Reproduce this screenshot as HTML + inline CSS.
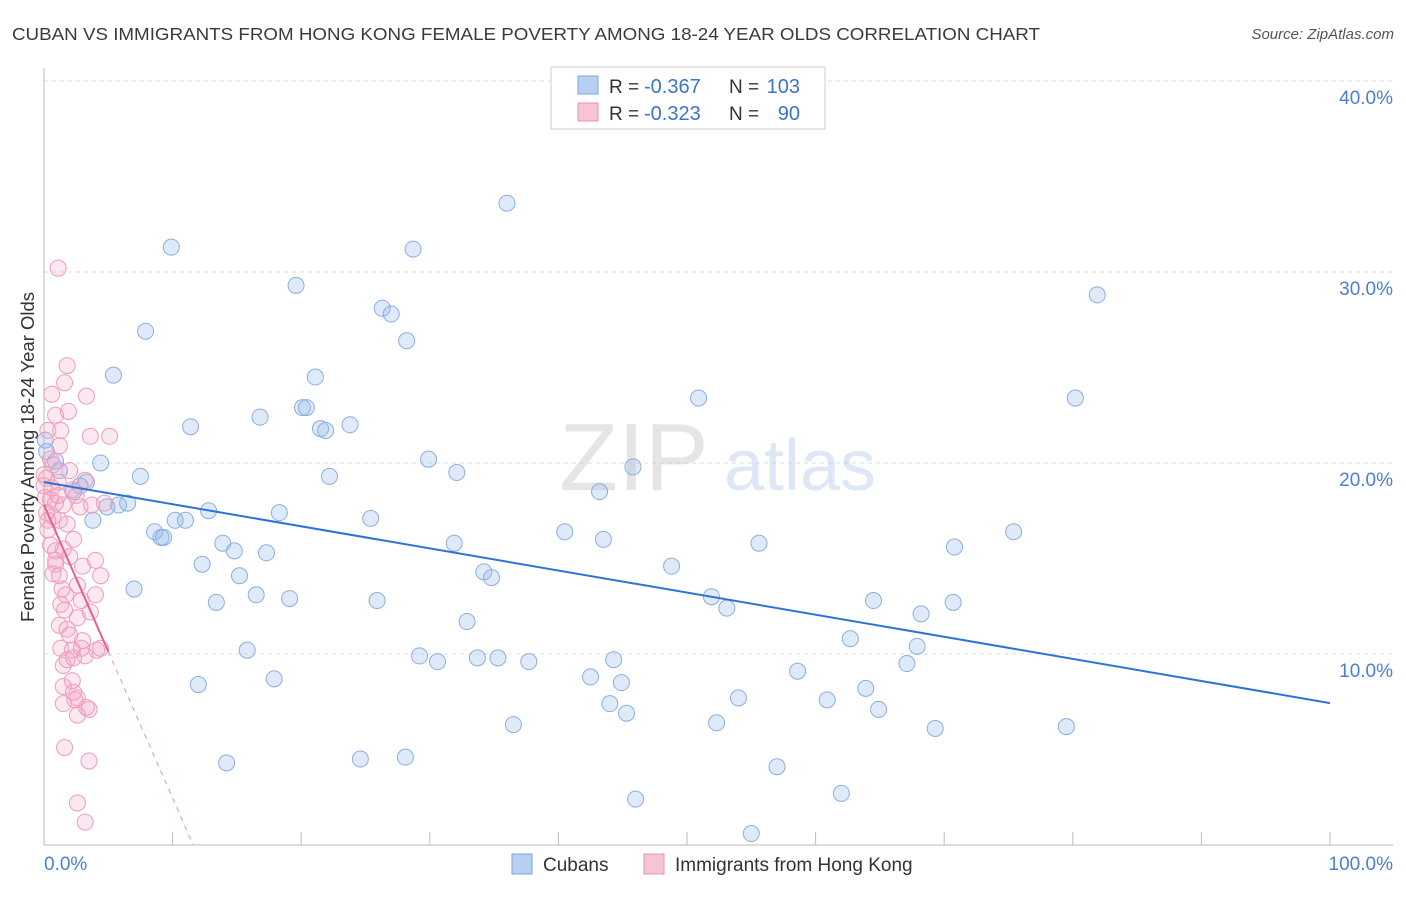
<!DOCTYPE html>
<html><head><meta charset="utf-8">
<style>
body{margin:0;background:#fff;font-family:"Liberation Sans",sans-serif;}
svg text{font-family:"Liberation Sans",sans-serif;}
</style></head>
<body>
<svg id="chart" width="1406" height="892" viewBox="0 0 1406 892" xmlns="http://www.w3.org/2000/svg">
<text x="12" y="40" font-size="17.5" fill="#3a3a3a" textLength="1028" lengthAdjust="spacingAndGlyphs">CUBAN VS IMMIGRANTS FROM HONG KONG FEMALE POVERTY AMONG 18-24 YEAR OLDS CORRELATION CHART</text>
<text x="1394" y="39" font-size="15" fill="#555" text-anchor="end" font-style="italic">Source: ZipAtlas.com</text>
<g id="grid"></g>
<g opacity="0.5">
<text x="634" y="490" font-size="96" fill="#ccc" text-anchor="middle" font-family="Liberation Serif">ZIP</text>
<text x="800" y="490" font-size="72" fill="#bcd0ee" text-anchor="middle">atlas</text>
</g>
<g id="axes"></g>
<g id="points"></g>
<g id="trends"></g>
<text transform="translate(34,457) rotate(-90)" font-size="18.5" fill="#333" text-anchor="middle">Female Poverty Among 18-24 Year Olds</text>
<g>
<rect x="551" y="67" width="274" height="62" fill="#fff" stroke="#ccc"/>
<rect x="578" y="76" width="20" height="18" fill="#b9cff2" stroke="#7fa6e0"/>
<rect x="578" y="103" width="20" height="18" fill="#f8c4d4" stroke="#eb8fb0"/>
<text x="609" y="93" font-size="19" fill="#333">R =</text>
<text x="644" y="93" font-size="20" fill="#3b74cc">-0.367</text>
<text x="729" y="93" font-size="19" fill="#333">N =</text>
<text x="800" y="93" font-size="20" fill="#3b74cc" text-anchor="end">103</text>
<text x="609" y="120" font-size="19" fill="#333">R =</text>
<text x="644" y="120" font-size="20" fill="#3b74cc">-0.323</text>
<text x="729" y="120" font-size="19" fill="#333">N =</text>
<text x="800" y="120" font-size="20" fill="#3b74cc" text-anchor="end">90</text>
</g>
<g>
<rect x="512" y="854" width="20" height="20" fill="#b9cff2" stroke="#7fa6e0"/>
<text x="543" y="871" font-size="19" fill="#333">Cubans</text>
<rect x="644" y="854" width="20" height="20" fill="#f8c4d4" stroke="#eb8fb0"/>
<text x="675" y="871" font-size="19" fill="#333">Immigrants from Hong Kong</text>
</g>
</svg>
<script>
const yTicks=[10,20,30,40];
const yTickLabels=["10.0%","20.0%","30.0%","40.0%"];
const xTickLabels=["0.0%","100.0%"];
const cubanX=[9.9,36.0,28.7,19.6,26.3,27.0,28.2,7.9,5.4,21.1,81.9,80.2,50.9,16.8,11.4,20.1,20.4,21.5,21.9,23.8,29.9,32.1,45.8,4.4,7.5,22.2,0.9,3.3,2.8,2.3,4.9,5.8,6.5,3.8,12.8,18.3,25.4,43.2,8.6,9.1,9.3,10.2,11.0,13.9,14.8,17.3,31.9,40.5,43.5,55.6,70.8,75.4,12.3,15.2,16.5,13.4,19.1,25.9,7.0,34.2,34.8,48.8,51.9,53.1,64.5,68.2,70.7,32.9,62.7,67.9,67.1,15.8,29.2,30.6,33.7,35.3,37.7,44.3,42.5,44.9,58.6,12.0,17.9,63.9,54.0,60.9,64.9,44.0,45.3,36.5,52.3,69.3,79.5,14.2,24.6,28.1,57.0,46.0,62.0,55.0,0.1,0.2,1.2];
const cubanY=[31.3,33.6,31.2,29.3,28.1,27.8,26.4,26.9,24.6,24.5,28.8,23.4,23.4,22.4,21.9,22.9,22.9,21.8,21.7,22.0,20.2,19.5,19.8,20.0,19.3,19.3,20.1,19.0,18.8,18.5,17.7,17.8,17.9,17.0,17.5,17.4,17.1,18.5,16.4,16.1,16.1,17.0,17.0,15.8,15.4,15.3,15.8,16.4,16.0,15.8,15.6,16.4,14.7,14.1,13.1,12.7,12.9,12.8,13.4,14.3,14.0,14.6,13.0,12.4,12.8,12.1,12.7,11.7,10.8,10.4,9.5,10.2,9.9,9.6,9.8,9.8,9.6,9.7,8.8,8.5,9.1,8.4,8.7,8.2,7.7,7.6,7.1,7.4,6.9,6.3,6.4,6.1,6.2,4.3,4.5,4.6,4.1,2.4,2.7,0.6,21.2,20.6,19.6];
const hkX=[1.1,1.8,1.6,0.6,3.3,1.9,0.9,3.6,5.1,1.2,0.3,0.5,0.7,0.2,1.1,2.2,2.5,0.1,0.5,0.9,1.5,2.8,0.2,0.7,1.2,1.8,0.3,2.3,1.5,0.9,2.0,0.9,3.0,0.7,1.2,4.4,2.6,1.7,4.0,2.9,1.3,3.6,2.6,1.2,1.8,2.0,1.3,2.2,2.9,4.1,3.2,2.3,1.5,4.4,2.2,1.5,2.3,2.6,1.5,3.3,3.5,2.6,1.6,3.5,2.6,3.2,0.0,0.0,0.3,0.5,0.9,1.6,1.8,2.4,1.4,3.0,4.0,1.1,0.6,3.7,4.7,2.0,1.3,3.2];
const hkY=[30.2,25.1,24.2,23.6,23.5,22.7,22.5,21.4,21.4,20.9,21.7,20.2,19.9,19.2,19.0,18.6,18.3,18.2,18.1,17.9,17.8,17.7,17.4,17.2,17.0,16.8,16.5,16.0,15.5,15.4,15.1,14.7,14.6,14.2,14.1,14.1,13.6,13.1,13.1,12.8,12.6,12.2,11.9,11.5,11.3,11.0,10.3,10.2,10.3,10.2,9.9,9.8,9.4,10.3,8.6,8.3,8.0,7.7,7.4,7.2,7.1,6.8,5.1,4.4,2.2,1.2,19.4,18.8,17.0,15.7,14.9,12.3,9.7,7.6,13.4,10.7,14.9,18.3,18.7,17.8,17.9,19.6,21.7,19.1];
const cubanTrend=[19.0,7.43];
const hkTrend=[17.8,11.6,5.0];
const NS="http://www.w3.org/2000/svg";
const X=v=>44+v*12.86, Y=v=>845-v*19.1;
function mk(tag,attrs,parent){const e=document.createElementNS(NS,tag);for(const k in attrs)e.setAttribute(k,attrs[k]);parent.appendChild(e);return e;}
const grid=document.getElementById('grid'),axes=document.getElementById('axes'),pts=document.getElementById('points'),tr=document.getElementById('trends');
yTicks.forEach((t,i)=>{
  const l=mk('line',{x1:44,x2:1393,y1:Y(t),y2:Y(t),stroke:'#ddd','stroke-dasharray':'4,4'},grid);
  
  
  const tx=mk('text',{x:1393,y:Y(t)+23,'font-size':19,fill:'#4a7fd0','text-anchor':'end'},axes);
  tx.textContent=yTickLabels[i];
  
  
});
mk('line',{x1:44,x2:44,y1:68,y2:845,stroke:'#bbb'},axes);
mk('line',{x1:44,x2:1393,y1:845,y2:845,stroke:'#bbb'},axes);
for(let i=0;i<=10;i++){mk('line',{x1:X(i*10),x2:X(i*10),y1:832,y2:845,stroke:'#bbb'},axes);}
[[0,'start',44],[1,'end',1393]].forEach(([i,a,x])=>{
  const tx=mk('text',{x:x,y:870,'font-size':19,fill:'#4a7fd0','text-anchor':a},axes);
  tx.textContent=xTickLabels[i];
  
  
});
cubanX.forEach((x,i)=>{
  const c=mk('circle',{cx:X(x),cy:Y(cubanY[i]),r:8,fill:'rgba(150,185,235,0.3)',stroke:'#8aaee3','stroke-width':1},pts);
  
  
});
hkX.forEach((x,i)=>{
  const c=mk('circle',{cx:X(x),cy:Y(hkY[i]),r:8,fill:'rgba(245,165,195,0.25)',stroke:'#ef9cba','stroke-width':1},pts);
  
  
});
const bl=mk('line',{x1:X(0),y1:Y(cubanTrend[0]),x2:X(100),y2:Y(cubanTrend[1]),stroke:'#2f72d6','stroke-width':2},tr);


const hy=x=>hkTrend[0]*(1-x/hkTrend[1]);
const pl=mk('line',{x1:X(0),y1:Y(hkTrend[0]),x2:X(hkTrend[2]),y2:Y(hy(hkTrend[2])),stroke:'#e8608e','stroke-width':2},tr);


const pd=mk('line',{x1:X(hkTrend[2]),y1:Y(hy(hkTrend[2])),x2:X(hkTrend[1]),y2:Y(0),stroke:'#eb8fb0','stroke-width':1,'stroke-dasharray':'5,5'},tr);


</script>
</body></html>
